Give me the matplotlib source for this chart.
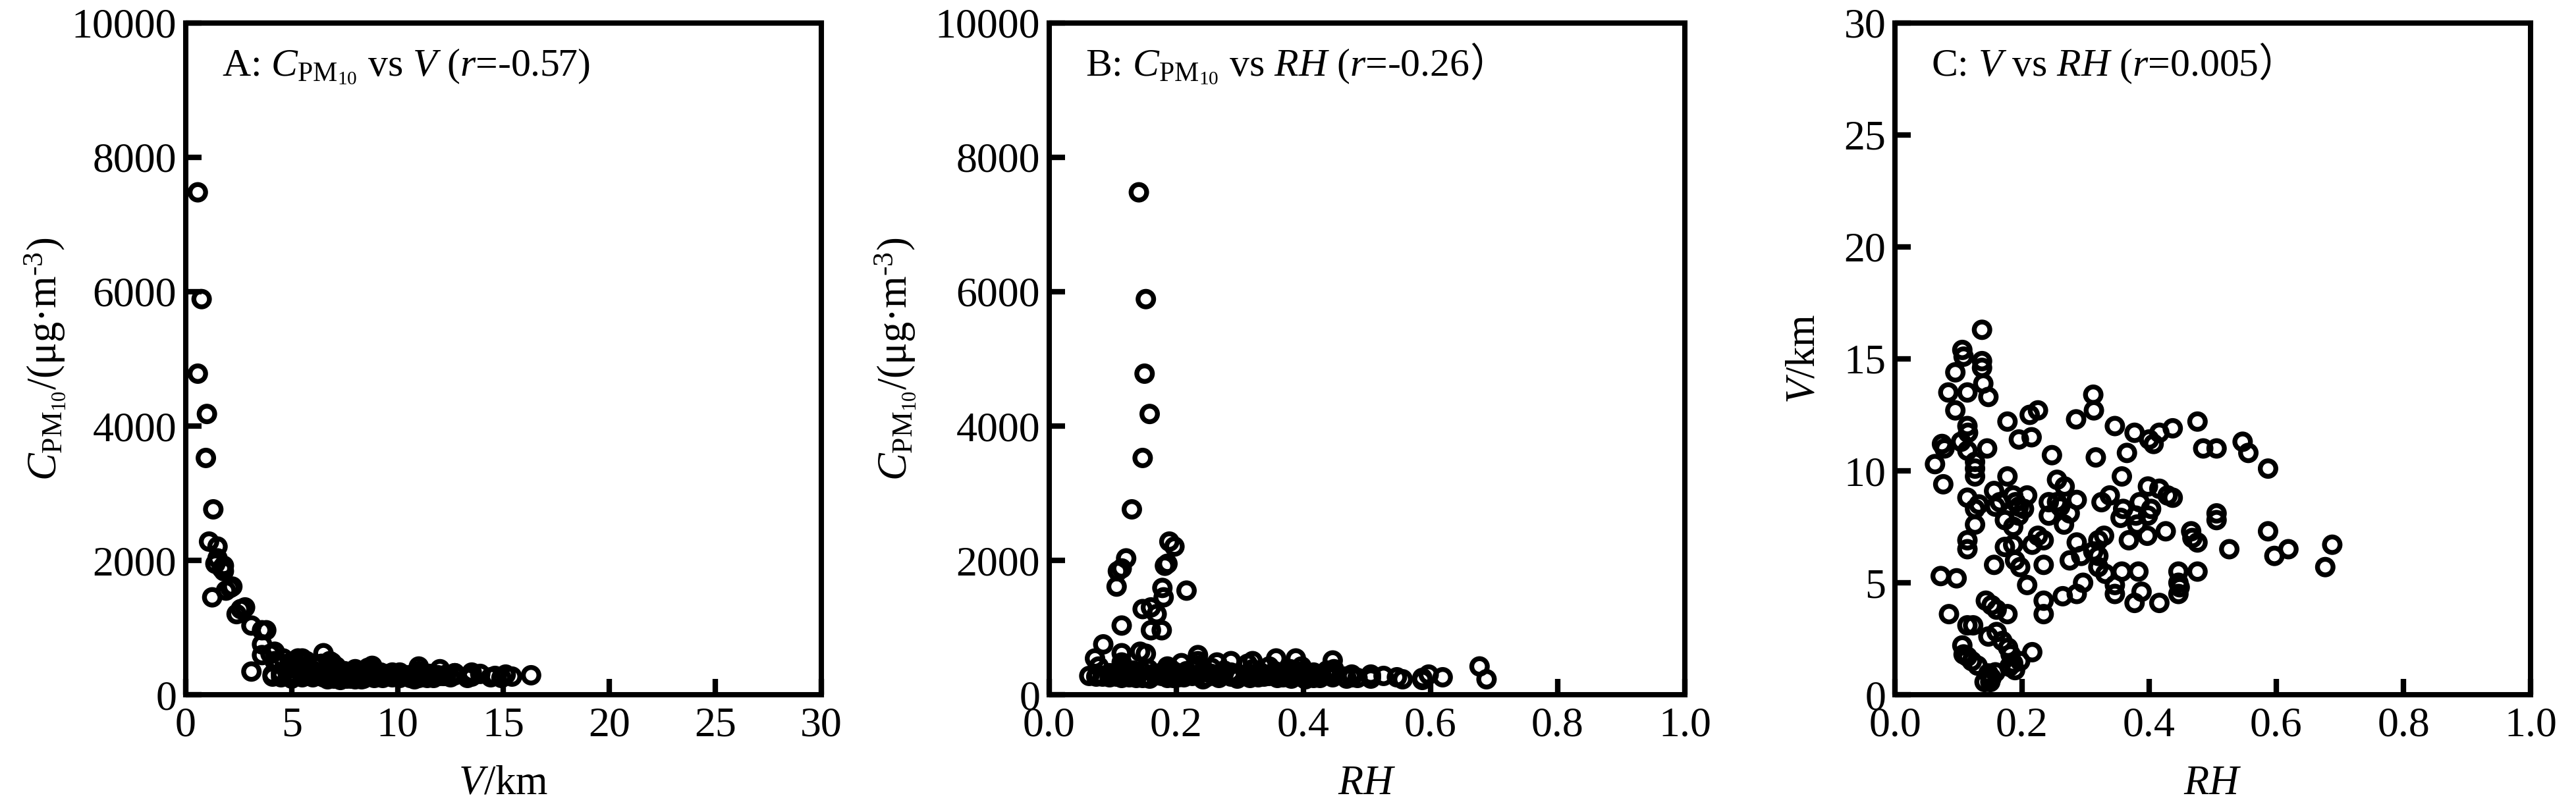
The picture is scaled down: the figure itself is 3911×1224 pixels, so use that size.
import matplotlib
matplotlib.use('Agg')
import matplotlib.pyplot as plt

# ---------------- data (one row per observation) ----------------
RH = [0.137, 0.106, 0.108, 0.137, 0.137, 0.095, 0.139, 0.084, 0.114, 0.147,
      0.095, 0.114, 0.115, 0.074, 0.078, 0.104, 0.114, 0.145, 0.126, 0.126,
      0.126, 0.063, 0.076, 0.114, 0.126, 0.132, 0.126, 0.114, 0.114, 0.072,
      0.097, 0.085, 0.114, 0.123, 0.106, 0.108, 0.114, 0.121, 0.130, 0.147,
      0.141, 0.158, 0.152, 0.150, 0.143, 0.152, 0.160, 0.177, 0.147, 0.160,
      0.169, 0.182, 0.186, 0.197, 0.216, 0.189, 0.180, 0.178, 0.156, 0.173,
      0.186, 0.189, 0.197, 0.208, 0.173, 0.186, 0.158, 0.165, 0.156, 0.177,
      0.186, 0.190, 0.195, 0.195, 0.203, 0.208, 0.177, 0.195, 0.215, 0.212,
      0.225, 0.216, 0.225, 0.234, 0.234, 0.234, 0.234, 0.247, 0.242, 0.242,
      0.255, 0.260, 0.267, 0.255, 0.266, 0.275, 0.286, 0.264, 0.286, 0.286,
      0.293, 0.275, 0.296, 0.285, 0.312, 0.313, 0.316, 0.312, 0.320, 0.320,
      0.329, 0.325, 0.338, 0.320, 0.331, 0.346, 0.355, 0.359, 0.346, 0.346,
      0.357, 0.357, 0.365, 0.368, 0.377, 0.379, 0.381, 0.383, 0.377, 0.388,
      0.385, 0.398, 0.398, 0.403, 0.397, 0.400, 0.407, 0.416, 0.437, 0.416,
      0.429, 0.437, 0.416, 0.426, 0.446, 0.446, 0.446, 0.448, 0.466, 0.468,
      0.476, 0.476, 0.476, 0.485, 0.506, 0.506, 0.506, 0.526, 0.547, 0.556,
      0.587, 0.587, 0.597, 0.619, 0.677, 0.688]

V = [16.3, 15.4, 15.1, 14.9, 14.6, 14.4, 13.9, 13.5, 13.5, 13.3,
     12.7, 12.0, 11.7, 11.2, 11.0, 11.3, 10.9, 11.0, 10.4, 10.1,
     9.75, 10.3, 9.4, 8.8, 8.3, 8.5, 7.6, 6.9, 6.5, 5.3,
     5.2, 3.6, 3.1, 3.1, 2.2, 1.8, 1.7, 1.5, 1.3, 0.95,
     0.57, 1.0, 0.75, 0.57, 4.2, 4.0, 3.8, 3.6, 2.6, 2.8,
     2.4, 1.8, 1.4, 1.5, 1.9, 1.1, 1.25, 2.1, 5.8, 6.6,
     6.7, 6.0, 5.7, 4.9, 7.8, 7.5, 8.4, 8.6, 9.1, 9.75,
     8.9, 8.6, 8.4, 8.0, 8.3, 8.9, 12.2, 11.4, 11.5, 12.5,
     12.7, 6.7, 7.1, 6.9, 5.8, 4.2, 3.6, 10.7, 8.6, 8.0,
     9.6, 8.4, 9.3, 8.6, 7.6, 8.1, 8.7, 4.4, 4.5, 6.8,
     6.2, 6.0, 5.0, 12.3, 13.4, 12.7, 10.6, 6.4, 6.2, 6.9,
     7.1, 8.6, 8.9, 5.7, 5.4, 12.0, 7.9, 8.3, 4.9, 4.5,
     5.5, 9.75, 10.8, 6.9, 11.7, 8.0, 7.6, 5.5, 4.1, 4.6,
     8.6, 9.3, 8.0, 8.3, 7.1, 11.4, 11.2, 11.7, 11.9, 9.2,
     8.9, 8.8, 4.1, 7.3, 5.5, 5.0, 4.5, 4.8, 7.3, 7.0,
     6.8, 5.5, 12.2, 11.0, 11.0, 8.1, 7.8, 6.5, 11.3, 10.8,
     10.1, 7.3, 6.2, 6.5, 5.7, 6.7]

C_PM10 = [290, 270, 300, 250, 280, 260, 310, 270, 330, 250,
          320, 380, 280, 270, 420, 300, 250, 350, 290, 330,
          260, 280, 300, 430, 270, 360, 310, 480, 618, 540,
          290, 750, 1030, 345, 1610, 1840, 1880, 2030, 2760, 3525,
          7480, 4180, 5890, 4780, 640, 610, 960, 960, 1275, 1300,
          1200, 1920, 1950, 2206, 1550, 2280, 1450, 1590, 380, 300,
          420, 260, 340, 470, 290, 350, 240, 310, 270, 330,
          250, 390, 280, 320, 260, 300, 280, 250, 310, 260,
          290, 350, 280, 430, 300, 500, 590, 260, 340, 230,
          310, 280, 250, 400, 290, 330, 270, 480, 330, 500,
          280, 360, 240, 300, 270, 320, 250, 460, 300, 380,
          260, 310, 270, 500, 340, 280, 350, 250, 420, 300,
          540, 280, 320, 260, 300, 380, 240, 330, 270, 540,
          300, 260, 350, 230, 420, 280, 310, 250, 290, 330,
          270, 360, 300, 250, 510, 320, 260, 380, 270, 240,
          300, 260, 280, 250, 270, 300, 240, 280, 260, 230,
          250, 220, 300, 260, 421, 230]

R_VALUES = ['-0.57', '-0.26', '0.005']
V_TICKS = [0, 5, 10, 15, 20, 25, 30]
C_TICKS = [0, 2000, 4000, 6000, 8000, 10000]
RH_TICKS = [0.0, 0.2, 0.4, 0.6, 0.8, 1.0]
RH_TICKLABELS = ['0.0', '0.2', '0.4', '0.6', '0.8', '1.0']

# ---------------- style ----------------
plt.rcParams['font.family'] = ['Liberation Serif', 'Noto Sans CJK SC']
plt.rcParams['mathtext.fontset'] = 'custom'
plt.rcParams['mathtext.rm'] = 'Liberation Serif'
plt.rcParams['mathtext.it'] = 'Liberation Serif:italic'
plt.rcParams['mathtext.bf'] = 'Liberation Serif:bold'

W, H = 3912, 1224
fig = plt.figure(figsize=(W / 100, H / 100), dpi=100)

lefts = [282, 1593, 2877]
axw, axh, axb = 965, 1020, H - 1055
axes = [fig.add_axes([l / W, axb / H, axw / W, axh / H]) for l in lefts]

CLABEL = r'$C_{\mathrm{PM}_{10}}$/(μg·m$^{\text{-3}}$)'
TICK_FS = 46
LABEL_FS = 45
TITLE_FS = 43

def style(ax):
    for sp in ax.spines.values():
        sp.set_linewidth(5.8)
        sp.set_color('black')
    ax.tick_params(direction='in', length=17, width=6, top=False, right=False,
                   labelsize=TICK_FS, colors='black')
    ax.tick_params(axis='x', pad=13)
    ax.tick_params(axis='y', pad=10)

def scatter(ax, x, y):
    ax.scatter(x, y, s=17 ** 2, facecolors='none', edgecolors='black',
               linewidths=5.3, zorder=3)

titles = [
    (r'A: $C_{\mathrm{PM}_{10}}$ vs $V$ ($r$=' + R_VALUES[0] + ')', None),
    (r'B: $C_{\mathrm{PM}_{10}}$ vs $RH$ ($r$=' + R_VALUES[1], '）'),
    (r'C: $V$ vs $RH$ ($r$=' + R_VALUES[2], '）'),
]

# Panel A
ax = axes[0]
scatter(ax, V, C_PM10)
ax.set_xlim(0, 30)
ax.set_ylim(0, 10000)
ax.set_xticks(V_TICKS)
ax.set_yticks(C_TICKS)
ax.set_xlabel(r'$V$/km', fontsize=LABEL_FS, va='center')
ax.set_ylabel(CLABEL, fontsize=LABEL_FS, va='center')
ax.yaxis.set_label_coords(-0.222, 0.5)

# Panel B
ax = axes[1]
scatter(ax, RH, C_PM10)
ax.set_xlim(0, 1)
ax.set_ylim(0, 10000)
ax.set_xticks(RH_TICKS)
ax.set_xticklabels(RH_TICKLABELS)
ax.set_yticks(C_TICKS)
ax.set_xlabel(r'$RH$', fontsize=LABEL_FS, va='center')
ax.set_ylabel(CLABEL, fontsize=LABEL_FS, va='center')
ax.yaxis.set_label_coords(-0.243, 0.5)

# Panel C
ax = axes[2]
scatter(ax, RH, V)
ax.set_xlim(0, 1)
ax.set_ylim(0, 30)
ax.set_xticks(RH_TICKS)
ax.set_xticklabels(RH_TICKLABELS)
ax.set_yticks(V_TICKS)
ax.set_xlabel(r'$RH$', fontsize=LABEL_FS, va='center')
ax.set_ylabel(r'$V$/km', fontsize=LABEL_FS, va='center')
ax.yaxis.set_label_coords(-0.142, 0.5)

for ax in axes:
    style(ax)
    ax.xaxis.set_label_coords(0.5, -0.133)

title_texts = []
for ax, (txt, tail) in zip(axes, titles):
    t = ax.text(0.057, 0.9216, txt, transform=ax.transAxes, fontsize=TITLE_FS,
                ha='left', va='baseline', family='Liberation Serif')
    title_texts.append((ax, t, tail))

fig.canvas.draw()
for ax, t, tail in title_texts:
    if tail:
        bb = t.get_window_extent()
        xa = ax.transAxes.inverted().transform((bb.x1, bb.y0))[0]
        ax.text(xa, 0.9216, tail, transform=ax.transAxes, fontsize=TITLE_FS,
                ha='left', va='baseline', family=['Noto Sans CJK SC'])

fig.savefig('out.png', dpi=100, facecolor='white')
